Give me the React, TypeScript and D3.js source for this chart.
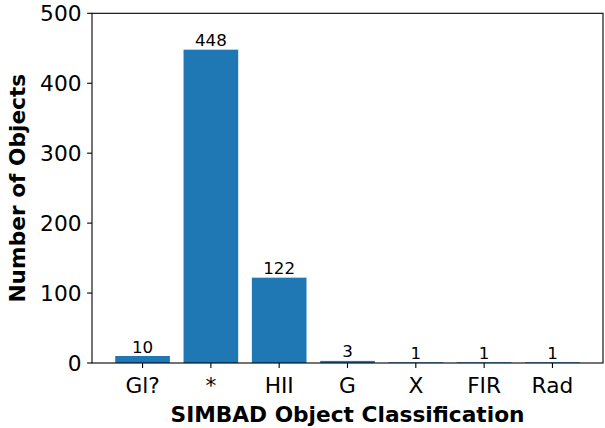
import React from "react";
import * as d3 from "d3";

const categories = ["Gl?", "*", "HII", "G", "X", "FIR", "Rad"];
const counts = [10, 448, 122, 3, 1, 1, 1];
const yTicks = [0, 100, 200, 300, 400, 500];

const W = 605;
const H = 428;
const left = 92;
const right = 603;
const top = 13.3;
const bottom = 363;
const FONT = "DejaVu Sans, sans-serif";
const FS = 21.7;

export default function App() {
  const x = d3
    .scaleBand<string>()
    .domain(categories)
    .range([left, right])
    .paddingInner(0.2)
    .paddingOuter(0.34);
  const y = d3.scaleLinear().domain([0, 500]).range([bottom, top]);

  return (
    <svg
      width={W}
      height={H}
      style={{ position: "absolute", left: 0, top: 0, background: "#fff" }}
      fontFamily={FONT}
    >
      {categories.map((c, i) => (
        <g key={c}>
          <rect
            x={x(c)}
            y={y(counts[i])}
            width={x.bandwidth()}
            height={bottom - y(counts[i])}
            fill="#1f77b4"
          />
          <text
            x={(x(c) as number) + x.bandwidth() / 2}
            y={y(counts[i]) - 3.5}
            textAnchor="middle"
            fontSize={16.7}
            fill="#000"
          >
            {counts[i]}
          </text>
        </g>
      ))}
      {/* spines */}
      <rect
        x={left}
        y={top}
        width={right - left}
        height={bottom - top}
        fill="none"
        stroke="#000"
        strokeWidth={1.1}
      />
      {/* y ticks */}
      {yTicks.map((t) => (
        <g key={t}>
          <line x1={left - 4.9} x2={left} y1={y(t)} y2={y(t)} stroke="#000" strokeWidth={1.1} />
          <text
            x={left - 10.5}
            y={y(t)}
            dy="0.36em"
            textAnchor="end"
            fontSize={FS}
            fill="#000"
          >
            {t}
          </text>
        </g>
      ))}
      {/* x ticks */}
      {categories.map((c) => {
        const cx = (x(c) as number) + x.bandwidth() / 2;
        return (
          <g key={"t" + c}>
            <line x1={cx} x2={cx} y1={bottom} y2={bottom + 4.9} stroke="#000" strokeWidth={1.1} />
            <text x={cx} y={bottom + 29.7} textAnchor="middle" fontSize={FS} fill="#000">
              {c}
            </text>
          </g>
        );
      })}
      <text
        x={(left + right) / 2}
        y={421.5}
        textAnchor="middle"
        fontSize={FS}
        fontWeight="bold"
        fill="#000"
      >
        SIMBAD Object Classification
      </text>
      <text
        transform={`translate(${25},${(top + bottom) / 2}) rotate(-90)`}
        textAnchor="middle"
        fontSize={FS}
        fontWeight="bold"
        fill="#000"
      >
        Number of Objects
      </text>
    </svg>
  );
}
